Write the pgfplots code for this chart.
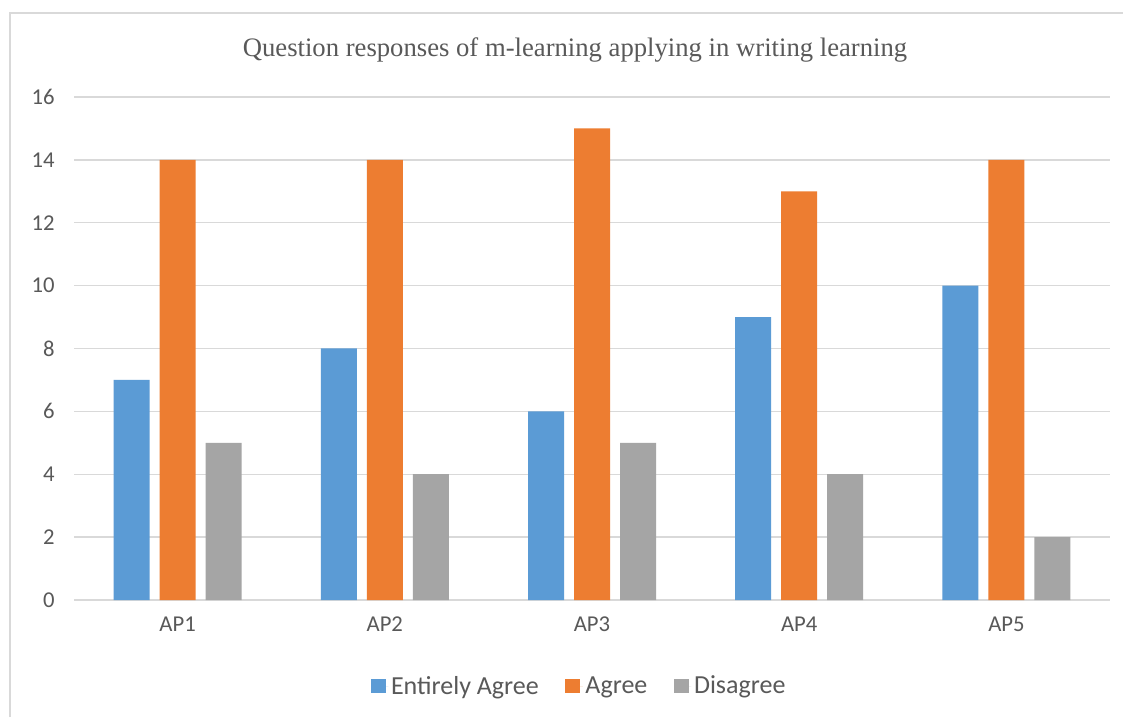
\documentclass[border=0pt]{standalone}
\usepackage{pgfplots}
\pgfplotsset{compat=1.18}
\usepackage{fontspec}
\setmainfont{Carlito}
\newfontfamily\titlefont{Liberation Serif}
\definecolor{cblue}{HTML}{5B9BD5}
\definecolor{corange}{HTML}{ED7D31}
\definecolor{cgray}{HTML}{A5A5A5}
\definecolor{gridc}{HTML}{D9D9D9}
\definecolor{txt}{HTML}{595959}
\begin{document}
\begin{tikzpicture}[x=1pt,y=1pt]
\path[use as bounding box, fill=white] (0,0) rectangle (842.25,537.75);
\draw[gridc, line width=1.1pt] (7.5,0) -- (7.5,528) -- (842.25,528);
\node[text=txt, font=\titlefont\fontsize{20}{23}\selectfont] at (431.25,500.25) {Question responses of m-learning applying in writing learning};
\begin{axis}[
  at={(55.5pt,87.75pt)}, anchor=south west,
  scale only axis, width=777pt, height=377.25pt,
  xmin=-0.5, xmax=4.5, ymin=0, ymax=16,
  ytick={0,2,...,16},
  xtick={0,1,2,3,4},
  xticklabels={AP1,AP2,AP3,AP4,AP5},
  major tick length=0pt,
  axis line style={draw=none},
  xmajorgrids=false,
  ymajorgrids=true, grid style={draw=gridc, line width=1.1pt},
  ybar=7.5pt, bar width=27pt,
  /pgf/number format/assume math mode=true,
  tick label style={text=txt, font=\fontsize{17}{20}\selectfont},
  yticklabel style={xshift=-11pt},
  xticklabel style={yshift=-9pt},
  legend columns=3,
  legend style={at={(0.488,-0.171)}, anchor=center, draw=none, fill=none,
    text=txt, font=\fontsize{19.5}{22}\selectfont,
    /tikz/every even column/.append style={column sep=18pt}},
  legend image code/.code={\fill[#1] (0pt,-5.6pt) rectangle (11.25pt,5.6pt); \path (0pt,0pt) -- (13pt,0pt);},
]
\addplot[fill=cblue, draw=none] coordinates {(0,7) (1,8) (2,6) (3,9) (4,10)};
\addplot[fill=corange, draw=none] coordinates {(0,14) (1,14) (2,15) (3,13) (4,14)};
\addplot[fill=cgray, draw=none] coordinates {(0,5) (1,4) (2,5) (3,4) (4,2)};
\legend{Entirely Agree, Agree, Disagree}
\end{axis}
\end{tikzpicture}
\end{document}
